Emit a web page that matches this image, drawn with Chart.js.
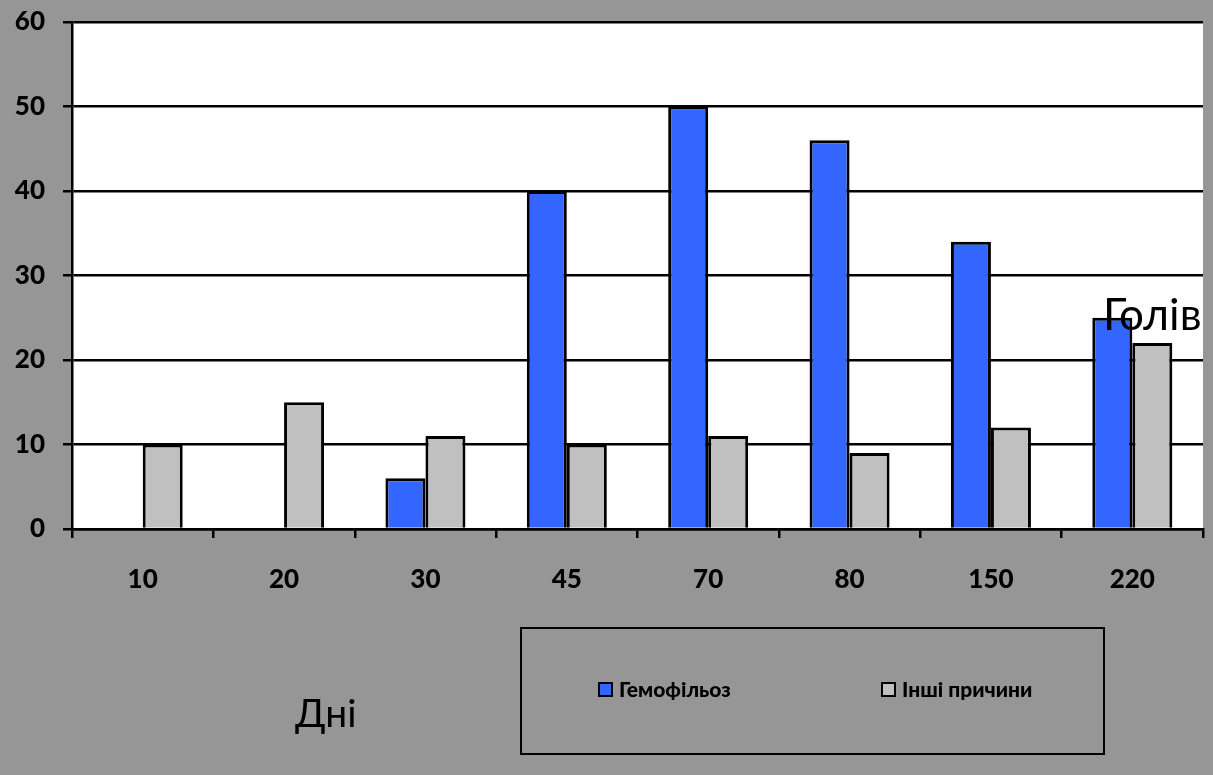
<!DOCTYPE html>
<html>
<head>
<meta charset="utf-8">
<script src="https://cdn.jsdelivr.net/npm/chart.js@4/dist/chart.umd.min.js"></script>
<style>
  html, body { margin: 0; padding: 0; background: #969696; }
  canvas { display: block; }
</style>
</head>
<body>
<canvas id="c" width="1213" height="775"></canvas>
<script>
// Days after onset
const days = ['10', '20', '30', '45', '70', '80', '150', '220'];
// Number of animals lost to haemophilosis
const haemophilosis = [0, 0, 6, 40, 50, 46, 34, 25];
// Number of animals lost to other causes
const otherCauses = [10, 15, 11, 10, 11, 9, 12, 22];
const seriesNames = ['Гемофільоз', 'Інші причини'];
const xTitle = 'Дні';
const yTitle = 'Голів';

const FONT = 'Lato, "Noto Sans", sans-serif';

const backdrop = {
  id: 'backdrop',
  beforeDraw(chart) {
    const { ctx, chartArea: a } = chart;
    ctx.save();
    ctx.fillStyle = '#969696';
    ctx.fillRect(0, 0, chart.width, chart.height);
    ctx.fillStyle = '#ffffff';
    ctx.fillRect(a.left, a.top, a.right - a.left, a.bottom - a.top);
    ctx.restore();
  }
};

const annotations = {
  id: 'annotations',
  afterDraw(chart) {
    const ctx = chart.ctx;
    ctx.save();
    // legend frame
    ctx.strokeStyle = '#000';
    ctx.lineWidth = 2;
    ctx.strokeRect(521, 628, 583, 126);
    // legend entries
    const starts = [598, 881];
    ctx.font = '900 21px ' + FONT;
    ctx.textBaseline = 'middle';
    ctx.textAlign = 'left';
    chart.data.datasets.forEach((ds, i) => {
      const x = starts[i];
      ctx.fillStyle = ds.backgroundColor;
      ctx.fillRect(x + 1, 683, 13, 13);
      ctx.lineWidth = 2;
      ctx.strokeStyle = '#000';
      ctx.strokeRect(x + 1, 683, 13, 13);
      ctx.fillStyle = '#000';
      ctx.fillText(ds.label, x + 21, 690);
    });
    // axis titles
    ctx.textBaseline = 'alphabetic';
    ctx.fillStyle = '#000';
    ctx.font = '39px ' + FONT;
    ctx.fillText(xTitle, 295, 727);
    ctx.font = '44px ' + FONT;
    ctx.fillText(yTitle, 1103, 330);
    ctx.restore();
  }
};

new Chart(document.getElementById('c'), {
  type: 'bar',
  data: {
    labels: days,
    datasets: [
      {
        label: seriesNames[0],
        data: haemophilosis,
        backgroundColor: '#3366ff',
        borderColor: '#000',
        borderWidth: 3
      },
      {
        label: seriesNames[1],
        data: otherCauses,
        backgroundColor: '#c0c0c0',
        borderColor: '#000',
        borderWidth: 3
      }
    ]
  },
  options: {
    responsive: false,
    animation: false,
    devicePixelRatio: 1,
    layout: { padding: { top: 22, right: 10, left: 0, bottom: 0 } },
    datasets: { bar: { categoryPercentage: 0.566, barPercentage: 1 } },
    plugins: {
      legend: { display: false },
      tooltip: { enabled: false }
    },
    scales: {
      x: {
        afterFit(s) { s.height = 246; s.paddingLeft = 0; s.paddingRight = 0; },
        grid: {
          drawOnChartArea: false,
          drawTicks: true,
          tickLength: 9,
          color: '#000',
          lineWidth: 2.5,
          offset: true
        },
        border: { color: '#000', width: 2.5 },
        ticks: {
          color: '#000',
          padding: 26,
          font: { family: FONT, size: 26, weight: '900' },
          maxRotation: 0
        }
      },
      y: {
        min: 0,
        max: 60,
        afterFit(s) { s.width = 72; s.paddingTop = 0; s.paddingBottom = 0; },
        grid: {
          color: '#000',
          lineWidth: 2.5,
          drawTicks: true,
          tickLength: 9
        },
        border: { color: '#000', width: 2.5 },
        ticks: {
          stepSize: 10,
          color: '#000',
          padding: 18,
          font: { family: FONT, size: 26, weight: '900' }
        }
      }
    }
  },
  plugins: [backdrop, annotations]
});
</script>
</body>
</html>
